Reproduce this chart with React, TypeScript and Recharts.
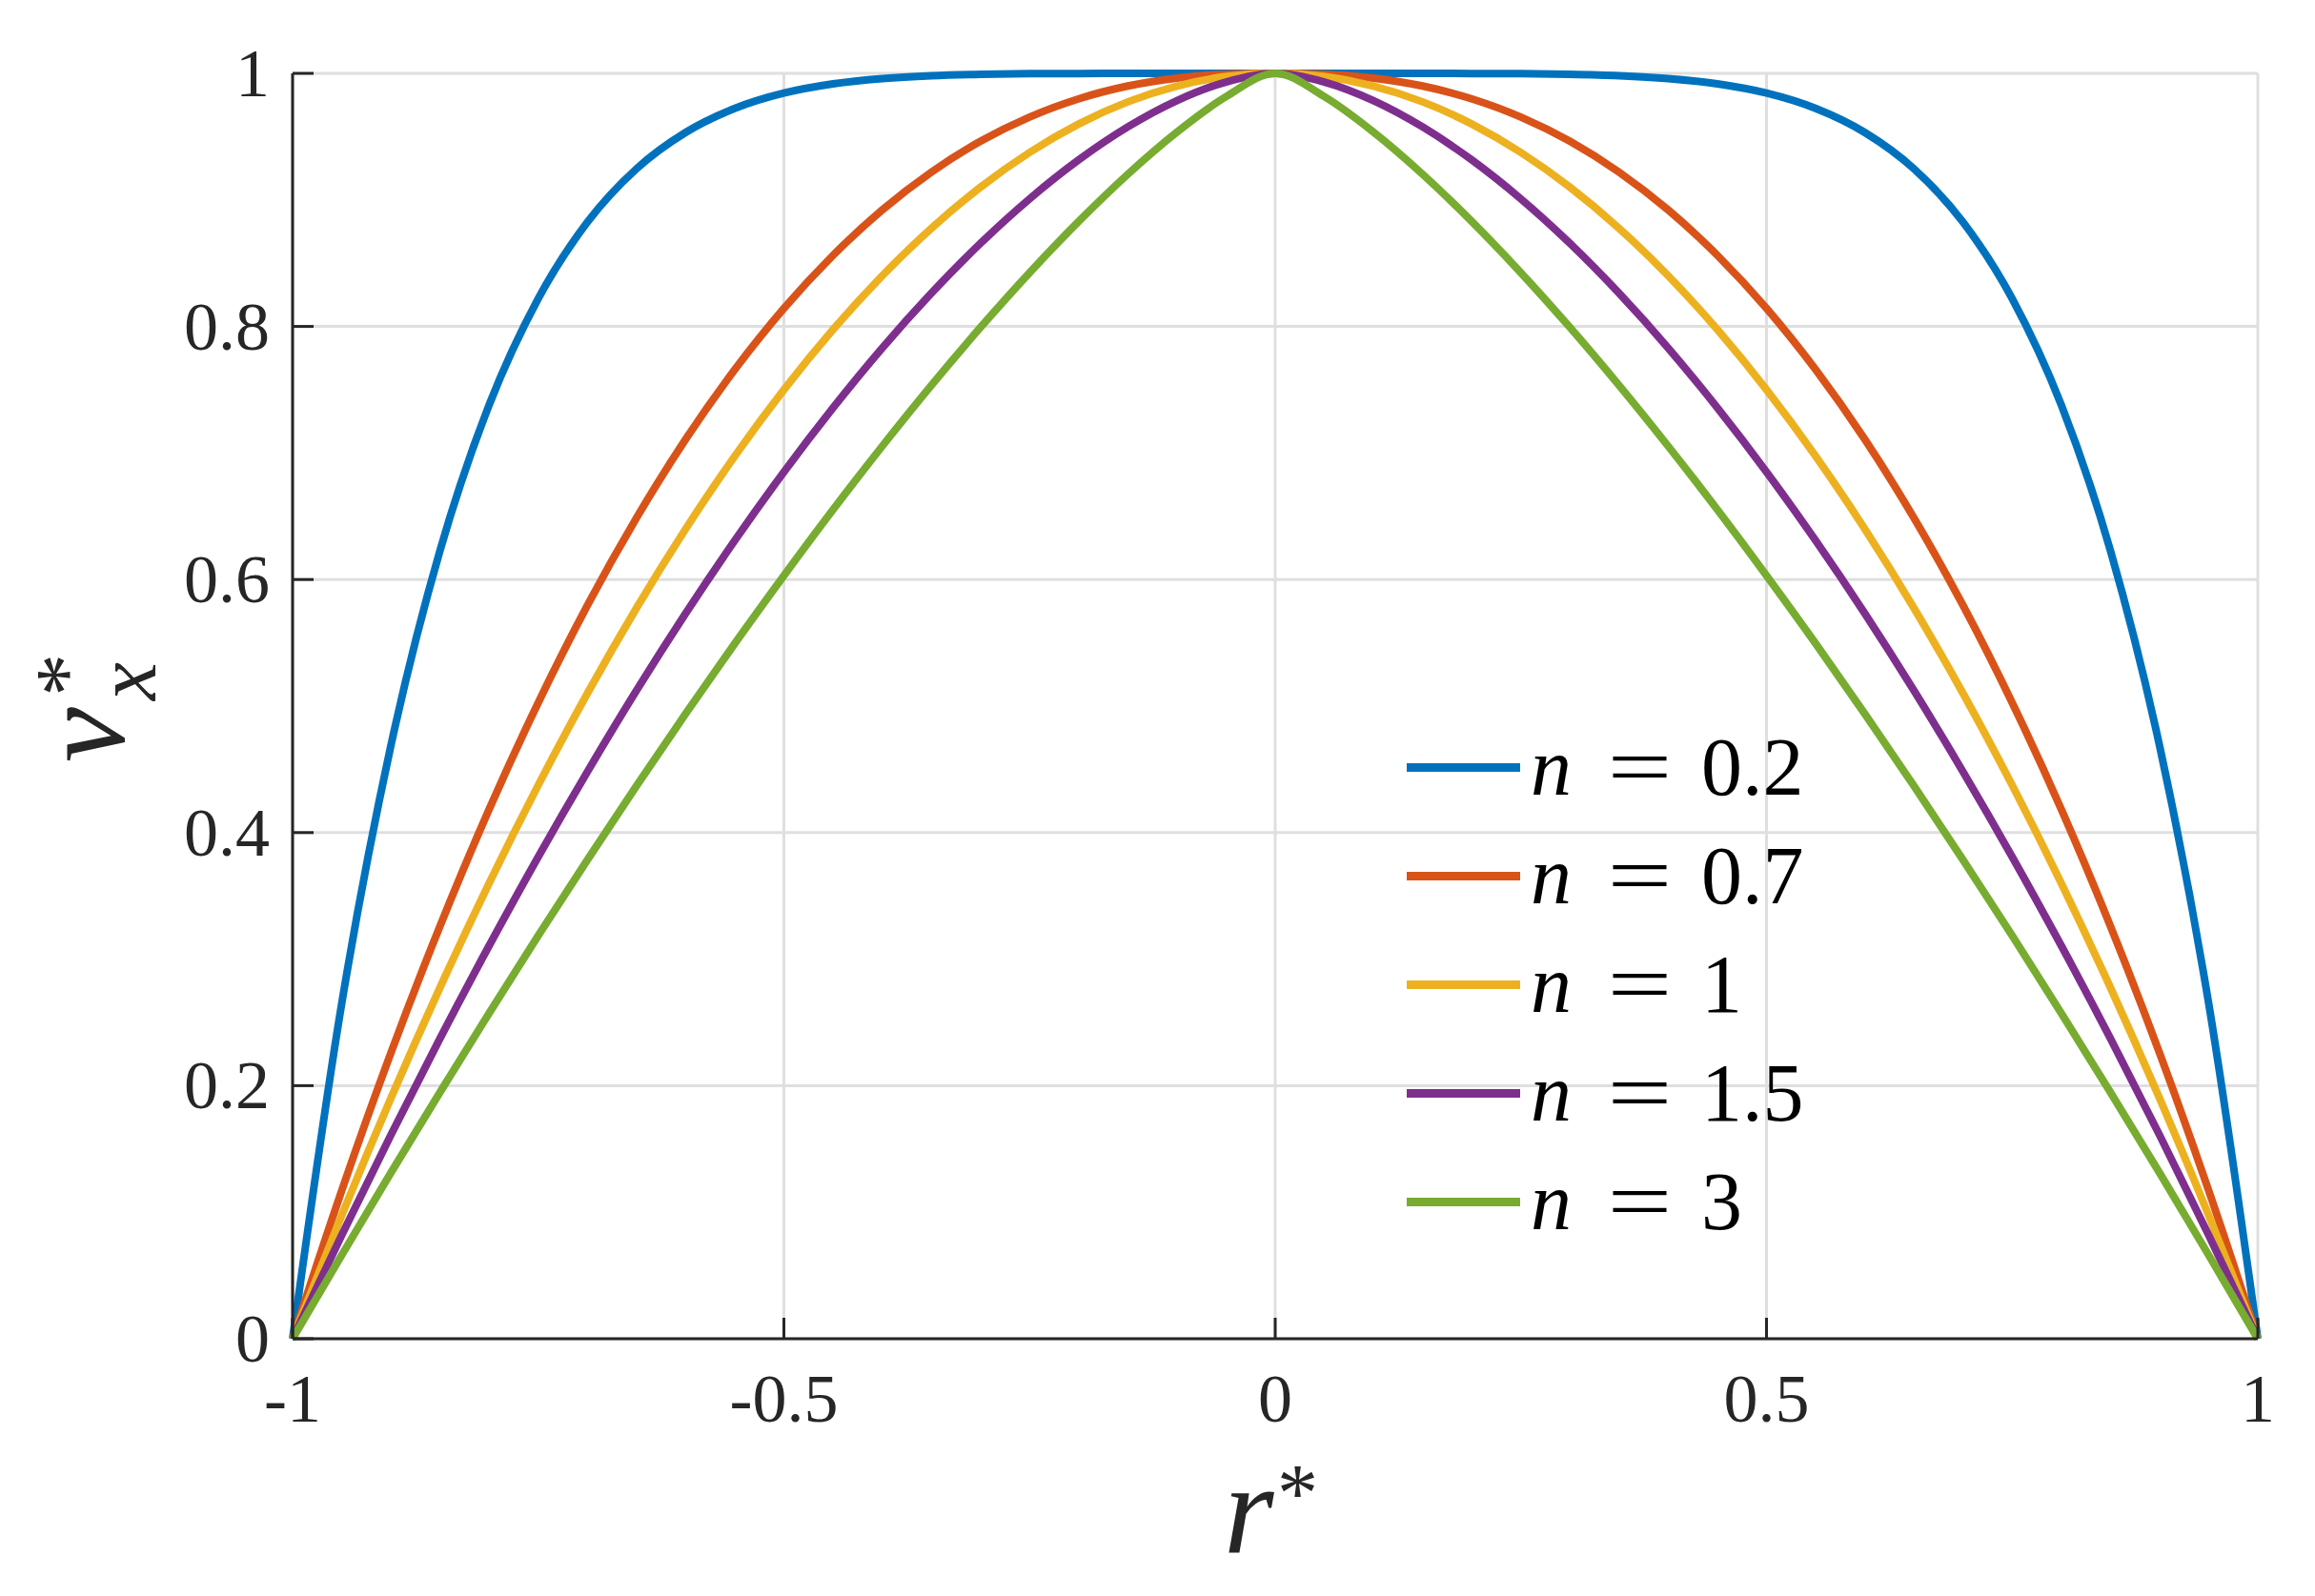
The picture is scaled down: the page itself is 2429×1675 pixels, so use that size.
import { LineChart, Line, XAxis, YAxis, CartesianGrid, Legend } from "recharts";

// r* positions, read along the horizontal axis
const R = [
  -1, -0.95, -0.9, -0.85, -0.8, -0.75, -0.7, -0.65, -0.6, -0.55, -0.5, -0.45, -0.4, -0.35, -0.3, -0.25, -0.2, -0.15,
  -0.1, -0.05, 0, 0.05, 0.1, 0.15, 0.2, 0.25, 0.3, 0.35, 0.4, 0.45, 0.5, 0.55, 0.6, 0.65, 0.7, 0.75, 0.8, 0.85, 0.9,
  0.95, 1,
];

const V_N02 = [
  0, 0.2649, 0.4686, 0.6229, 0.7379, 0.822, 0.8824, 0.9246, 0.9533, 0.9723, 0.9844, 0.9917, 0.9959, 0.9982, 0.9993,
  0.9998, 0.9999, 1, 1, 1, 1, 1, 1, 1, 0.9999, 0.9998, 0.9993, 0.9982, 0.9959, 0.9917, 0.9844, 0.9723, 0.9533, 0.9246,
  0.8824, 0.822, 0.7379, 0.6229, 0.4686, 0.2649, 0,
];
const V_N07 = [
  0, 0.1171, 0.2258, 0.3261, 0.4184, 0.5027, 0.5795, 0.6487, 0.7108, 0.7659, 0.8143, 0.8562, 0.892, 0.9219, 0.9463,
  0.9655, 0.9799, 0.99, 0.9963, 0.9993, 1, 0.9993, 0.9963, 0.99, 0.9799, 0.9655, 0.9463, 0.9219, 0.892, 0.8562, 0.8143,
  0.7659, 0.7108, 0.6487, 0.5795, 0.5027, 0.4184, 0.3261, 0.2258, 0.1171, 0,
];
const V_N1 = [
  0, 0.0975, 0.19, 0.2775, 0.36, 0.4375, 0.51, 0.5775, 0.64, 0.6975, 0.75, 0.7975, 0.84, 0.8775, 0.91, 0.9375, 0.96,
  0.9775, 0.99, 0.9975, 1, 0.9975, 0.99, 0.9775, 0.96, 0.9375, 0.91, 0.8775, 0.84, 0.7975, 0.75, 0.6975, 0.64, 0.5775,
  0.51, 0.4375, 0.36, 0.2775, 0.19, 0.0975, 0,
];
const V_N15 = [
  0, 0.0819, 0.161, 0.2373, 0.3106, 0.3809, 0.4481, 0.5123, 0.5732, 0.6308, 0.685, 0.7357, 0.7829, 0.8262, 0.8656,
  0.9008, 0.9316, 0.9577, 0.9785, 0.9932, 1, 0.9932, 0.9785, 0.9577, 0.9316, 0.9008, 0.8656, 0.8262, 0.7829, 0.7357,
  0.685, 0.6308, 0.5732, 0.5123, 0.4481, 0.3809, 0.3106, 0.2373, 0.161, 0.0819, 0,
];
const V_N3 = [
  0, 0.0661, 0.1311, 0.1948, 0.2573, 0.3186, 0.3784, 0.4369, 0.4939, 0.5494, 0.6031, 0.6552, 0.7053, 0.7534, 0.7992,
  0.8425, 0.883, 0.9203, 0.9536, 0.9816, 1, 0.9816, 0.9536, 0.9203, 0.883, 0.8425, 0.7992, 0.7534, 0.7053, 0.6552,
  0.6031, 0.5494, 0.4939, 0.4369, 0.3784, 0.3186, 0.2573, 0.1948, 0.1311, 0.0661, 0,
];

const N_LABELS = ["0.2", "0.7", "1", "1.5", "3"];
const X_TICKS = [-1, -0.5, 0, 0.5, 1];
const Y_TICKS = [0, 0.2, 0.4, 0.6, 0.8, 1];

const COLORS = ["#0072BD", "#D95319", "#EDB120", "#7E2F8E", "#77AC30"];
const SERIES = [V_N02, V_N07, V_N1, V_N15, V_N3];

const FONT = "'Liberation Serif', 'Times New Roman', serif";
const AXIS = "#262626";

const data = R.map((r, i) => {
  const row: Record<string, number> = { r };
  SERIES.forEach((vals, k) => {
    row[`s${k}`] = vals[i];
  });
  return row;
});

function YTick(props: any) {
  const { x, y, payload } = props;
  return (
    <g>
      <line x1={x} x2={x + 22} y1={y} y2={y} stroke={AXIS} strokeWidth={3} />
      <text x={x - 24} y={y + 24} textAnchor="end" fontFamily={FONT} fontSize={72} fill={AXIS}>
        {String(payload.value)}
      </text>
    </g>
  );
}

function XTick(props: any) {
  const { x, y, payload } = props;
  return (
    <g>
      <line x1={x} x2={x} y1={y} y2={y - 22} stroke={AXIS} strokeWidth={3} />
      <text x={x} y={y + 87} textAnchor="middle" fontFamily={FONT} fontSize={72} fill={AXIS}>
        {String(payload.value)}
      </text>
    </g>
  );
}

function XLabel(props: any) {
  const vb = props.viewBox || { x: 307, y: 1405, width: 2062, height: 200 };
  const cx = vb.x + vb.width / 2;
  const base = vb.y + 225;
  return (
    <g fontFamily={FONT} fill={AXIS}>
      <text x={cx - 54} y={base} fontSize={135} fontStyle="italic">
        r
      </text>
      <text x={cx + 2} y={base - 34} fontSize={86}>
        *
      </text>
    </g>
  );
}

function YLabel(props: any) {
  const vb = props.viewBox || { x: 107, y: 77, width: 200, height: 1328 };
  const cx = vb.x + 23;
  const cy = vb.y + vb.height / 2;
  return (
    <g transform={`translate(${cx},${cy}) rotate(-90)`} fontFamily={FONT} fill={AXIS}>
      <text x={-59} y={0} fontSize={130} fontStyle="italic">
        v
      </text>
      <text x={10} y={-30} fontSize={90}>
        *
      </text>
      <text x={6} y={33} fontSize={90} fontStyle="italic">
        x
      </text>
    </g>
  );
}

function renderLegend(props: any) {
  const items = props.payload || [];
  return (
    <div style={{ fontFamily: FONT, color: "#000" }}>
      {items.map((entry: any, i: number) => (
        <div key={i} style={{ display: "flex", alignItems: "center", height: 114 }}>
          <span style={{ display: "inline-block", width: 119, height: 9, background: entry.color, marginRight: 11 }} />
          <span style={{ fontSize: 86, fontStyle: "italic", width: 84, display: "inline-block" }}>n</span>
          <span
            style={{
              fontSize: 86,
              display: "inline-block",
              width: 61,
              textAlign: "center",
              transform: "scaleX(1.4)",
              marginRight: 34,
            }}
          >
            =
          </span>
          <span style={{ fontSize: 86 }}>{entry.value}</span>
        </div>
      ))}
    </div>
  );
}

export default function App() {
  return (
    <div style={{ position: "absolute", left: 0, top: 0, background: "#fff" }}>
      <LineChart width={2429} height={1675} data={data} margin={{ top: 77, right: 60, left: 107, bottom: 70 }}>
        <CartesianGrid stroke="#dfdfdf" strokeWidth={3} />
        <XAxis
          type="number"
          dataKey="r"
          domain={[-1, 1]}
          ticks={X_TICKS}
          interval={0}
          tick={XTick}
          tickLine={false}
          tickSize={0}
          tickMargin={0}
          height={200}
          axisLine={{ stroke: AXIS, strokeWidth: 3 }}
          label={XLabel}
        />
        <YAxis
          type="number"
          domain={[0, 1]}
          ticks={Y_TICKS}
          interval={0}
          tick={YTick}
          tickLine={false}
          tickSize={0}
          tickMargin={0}
          width={200}
          axisLine={{ stroke: AXIS, strokeWidth: 3 }}
          label={YLabel}
        />
        <Legend
          layout="vertical"
          align="center"
          verticalAlign="middle"
          wrapperStyle={{ left: 1476, top: 748, width: 520 }}
          content={renderLegend}
        />
        {SERIES.map((_, k) => (
          <Line
            key={k}
            type="monotone"
            dataKey={`s${k}`}
            name={N_LABELS[k]}
            stroke={COLORS[k]}
            strokeWidth={8}
            dot={false}
            activeDot={false}
            isAnimationActive={false}
          />
        ))}
      </LineChart>
    </div>
  );
}
